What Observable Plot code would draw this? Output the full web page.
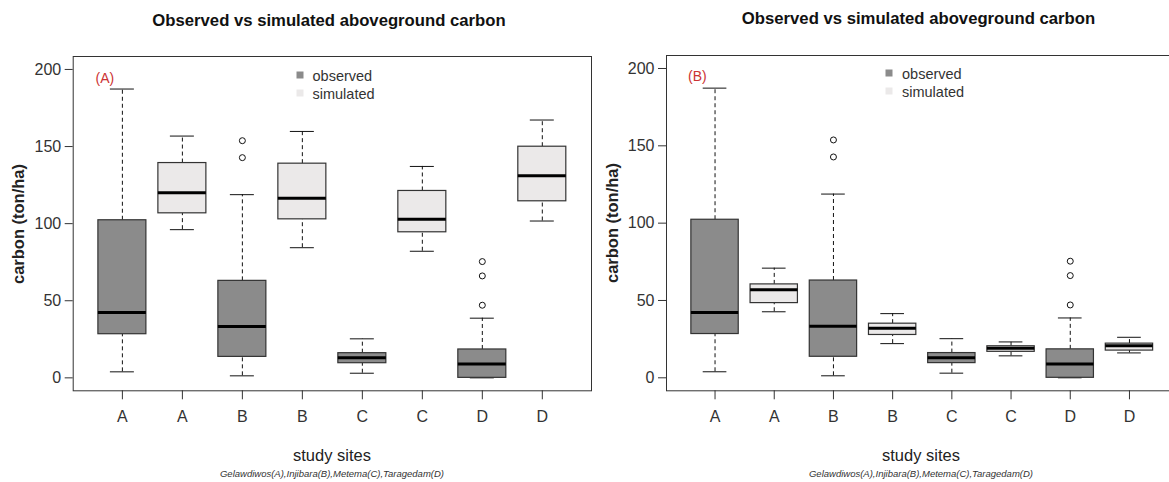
<!DOCTYPE html>
<html>
<head>
<meta charset="utf-8">
<script src="https://cdn.jsdelivr.net/npm/d3@7"></script>
<script src="https://cdn.jsdelivr.net/npm/@observablehq/plot@0.6"></script>
<style>
  html, body { margin: 0; padding: 0; background: #fff; overflow: hidden; width: 1169px; height: 482px; }
  body { position: relative; font-family: "Liberation Sans", Arial, sans-serif; color: #222; }
  .abs { position: absolute; white-space: nowrap; line-height: 1; }
  .center { transform: translate(-50%, -50%); }
  .vcenter { transform: translate(0, -50%); }
  .title { font-weight: bold; font-size: 16.7px; color: #111; }
  .xlab { font-size: 16.5px; color: #222; }
  .ylab { font-weight: bold; font-size: 16.5px; color: #222; transform: translate(-50%, -50%) rotate(-90deg); }
  .cap { font-style: italic; font-size: 9.5px; color: #333; }
  .tag { font-size: 14px; color: #cc3333; }
  .leg { font-size: 14.5px; color: #333; }
  .sq { position: absolute; width: 7px; height: 7px; transform: translate(-50%, -50%); }
  .panel { position: absolute; top: 0; overflow: hidden; height: 482px; }
  .panel svg { max-width: none !important; }
</style>
</head>
<body>
<script>
// ---- data ----
const tickLabels = ["A", "A", "B", "B", "C", "C", "D", "D"];
const groups = ["observed", "simulated", "observed", "simulated", "observed", "simulated", "observed", "simulated"];
const yTicks = [0, 50, 100, 150, 200];

// panel (A)
const lowA  = [3.9,  96.1,  1.3,  84.4,  3.0,  82.1,  0.0, 101.7];
const q1A   = [28.3, 106.7, 13.6, 102.8, 9.5,  94.4,  0.0, 114.5];
const medA  = [42.3, 120.1, 33.3, 116.4, 13.0, 102.8, 8.9, 131.1];
const q3A   = [102.2, 139.3, 62.9, 138.9, 16.0, 121.2, 18.4, 149.9];
const highA = [187.3, 156.8, 118.8, 159.8, 25.3, 137.1, 38.7, 167.2];

// panel (B)
const lowB  = [3.9,  42.7, 1.3,  22.1, 3.0,  14.2, 0.0, 16.1];
const q1B   = [28.3, 48.3, 13.6, 27.7, 9.5,  16.8, 0.0, 17.6];
const medB  = [42.3, 56.9, 33.3, 32.0, 13.0, 19.1, 8.9, 20.8];
const q3B   = [102.2, 60.4, 62.9, 35.0, 16.0, 20.4, 18.4, 22.1];
const highB = [187.3, 70.9, 118.8, 41.5, 25.3, 23.2, 38.7, 26.2];

// outliers (same observed data in both panels)
const outlierSite  = [3, 3, 7, 7, 7];
const outlierValue = [153.8, 142.8, 75.4, 66.1, 47.1];

const fills = { observed: "#8b8b8b", simulated: "#ebe9e9" };

function rows(low, q1, med, q3, high) {
  return tickLabels.map((t, i) => ({
    pos: i + 1, group: groups[i], low: low[i], q1: q1[i], med: med[i], q3: q3[i], high: high[i]
  }));
}
const outliers = outlierSite.map((p, i) => ({ pos: p, value: outlierValue[i] }));

function panel(data, opts) {
  return Plot.plot({
    width: opts.width,
    height: 482,
    marginLeft: opts.marginLeft,
    marginRight: opts.marginRight,
    marginTop: opts.marginTop,
    marginBottom: opts.marginBottom,
    style: { fontFamily: "Liberation Sans, Arial, sans-serif", background: "transparent", maxWidth: "none" },
    x: { domain: [0.18, 8.82] },
    y: { domain: [-8.4, 208.4] },
    marks: [
      // whiskers
      Plot.ruleX(data, { x: "pos", y1: "q3", y2: "high", stroke: "#111", strokeWidth: 1, strokeDasharray: "4,3" }),
      Plot.ruleX(data, { x: "pos", y1: "low", y2: "q1", stroke: "#111", strokeWidth: 1, strokeDasharray: "4,3" }),
      Plot.ruleY(data, { y: "high", x1: d => d.pos - 0.2, x2: d => d.pos + 0.2, stroke: "#111", strokeWidth: 1 }),
      Plot.ruleY(data, { y: "low", x1: d => d.pos - 0.2, x2: d => d.pos + 0.2, stroke: "#111", strokeWidth: 1 }),
      // boxes
      Plot.rect(data, { x1: d => d.pos - 0.4, x2: d => d.pos + 0.4, y1: "q1", y2: "q3",
        fill: d => fills[d.group], stroke: "#333", strokeWidth: 1.2 }),
      // medians
      Plot.ruleY(data, { y: "med", x1: d => d.pos - 0.4, x2: d => d.pos + 0.4, stroke: "#000", strokeWidth: 3 }),
      // outliers
      Plot.dot(outliers, { x: "pos", y: "value", r: 3, stroke: "#111", fill: "#fff", strokeWidth: 1 }),
      Plot.frame({ stroke: "#333", strokeWidth: 1 }),
      Plot.axisY({ ticks: yTicks, tickSize: 8, tickPadding: 4, fontSize: 16, tickFormat: d => String(d),
        stroke: "#333", fill: "#333", label: null }),
      Plot.axisX({ ticks: [1, 2, 3, 4, 5, 6, 7, 8], tickFormat: i => tickLabels[i - 1], tickSize: 9,
        tickPadding: 11, fontSize: 16, stroke: "#333", fill: "#333", label: null })
    ]
  });
}

function addDiv(cls, text, left, top, extra) {
  const d = document.createElement("div");
  d.className = "abs " + cls;
  d.textContent = text;
  d.style.left = left + "px";
  d.style.top = top + "px";
  if (extra) Object.assign(d.style, extra);
  document.body.appendChild(d);
  return d;
}
function addSquare(color, left, top) {
  const d = document.createElement("div");
  d.className = "sq";
  d.style.left = left + "px";
  d.style.top = top + "px";
  d.style.background = color;
  document.body.appendChild(d);
}

// left panel
const leftWrap = document.createElement("div");
leftWrap.className = "panel";
leftWrap.style.left = "0px";
leftWrap.style.width = "600px";
leftWrap.appendChild(panel(rows(lowA, q1A, medA, q3A, highA),
  { width: 600, marginLeft: 72.7, marginRight: 9, marginTop: 56, marginBottom: 91.7 }));
document.body.appendChild(leftWrap);

// right panel
const rightWrap = document.createElement("div");
rightWrap.className = "panel";
rightWrap.style.left = "580px";
rightWrap.style.width = "589px";
rightWrap.appendChild(panel(rows(lowB, q1B, medB, q3B, highB),
  { width: 600, marginLeft: 86, marginRight: 2.5, marginTop: 55, marginBottom: 91.7 }));
document.body.appendChild(rightWrap);

// texts
const title = "Observed vs simulated aboveground carbon";
const xLabel = "study sites";
const yLabel = "carbon (ton/ha)";
const caption = "Gelawdiwos(A),Injibara(B),Metema(C),Taragedam(D)";
const legendLabels = ["observed", "simulated"];

// left
addDiv("title center", title, 329, 21);
addDiv("xlab center", xLabel, 332, 455);
addDiv("cap center", caption, 332, 474);
addDiv("ylab", yLabel, 18, 224);
addDiv("tag vcenter", "(A)", 95.5, 78);
addSquare(fills.observed, 300, 75);
addSquare(fills.simulated, 300, 92.7);
addDiv("leg vcenter", legendLabels[0], 312.5, 76);
addDiv("leg vcenter", legendLabels[1], 312.5, 93.5);

// right
addDiv("title center", title, 918.5, 19);
addDiv("xlab center", xLabel, 921, 455);
addDiv("cap center", caption, 921, 474);
addDiv("ylab", yLabel, 612, 223);
addDiv("tag vcenter", "(B)", 688, 76);
addSquare(fills.observed, 889, 72.7);
addSquare(fills.simulated, 889, 90.7);
addDiv("leg vcenter", legendLabels[0], 902, 74);
addDiv("leg vcenter", legendLabels[1], 902, 91.5);
</script>
</body>
</html>
